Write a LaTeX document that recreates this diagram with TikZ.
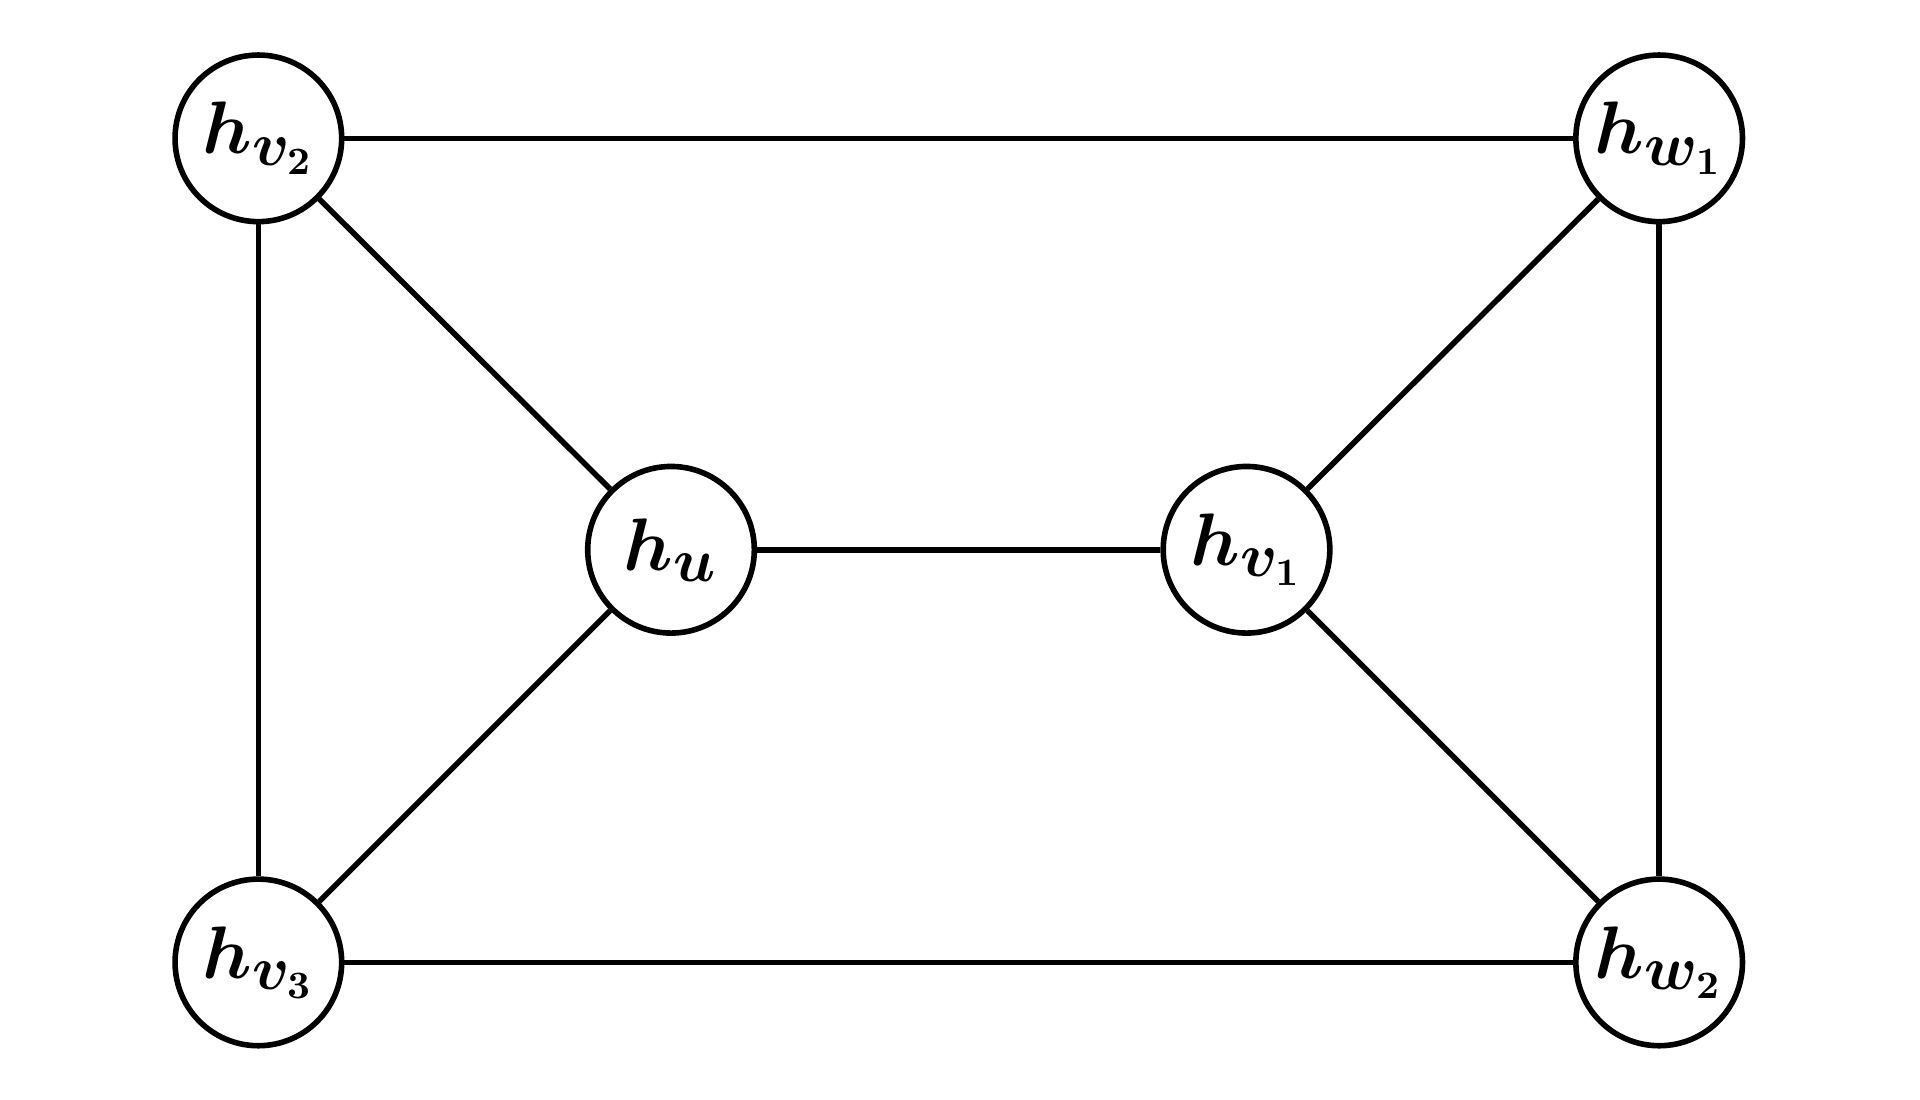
\documentclass[tikz,border=0pt]{standalone}
\usepackage{bm}
\begin{document}
\begin{tikzpicture}[x=0.01cm,y=0.01cm,
  vert/.style={circle,draw,line width=1.3pt,minimum size=1.36cm,inner sep=0pt,font=\fontsize{19}{21}\selectfont\boldmath},
  edge/.style={line width=1.3pt}]
\useasboundingbox (0,0) rectangle (1568,898);
\node[vert] (v2) at (211,785) {$h_{v_2}$};
\node[vert] (w1) at (1355,785) {$h_{w_1}$};
\node[vert] (u) at (548,449) {$h_{u}$};
\node[vert] (v1) at (1018,449) {$h_{v_1}$};
\node[vert] (v3) at (211,112) {$h_{v_3}$};
\node[vert] (w2) at (1355,112) {$h_{w_2}$};
\draw[edge] (v2)--(w1);
\draw[edge] (v3)--(w2);
\draw[edge] (v2)--(v3);
\draw[edge] (w1)--(w2);
\draw[edge] (u)--(v1);
\draw[edge] (v2)--(u);
\draw[edge] (v3)--(u);
\draw[edge] (w1)--(v1);
\draw[edge] (w2)--(v1);
\end{tikzpicture}
\end{document}
